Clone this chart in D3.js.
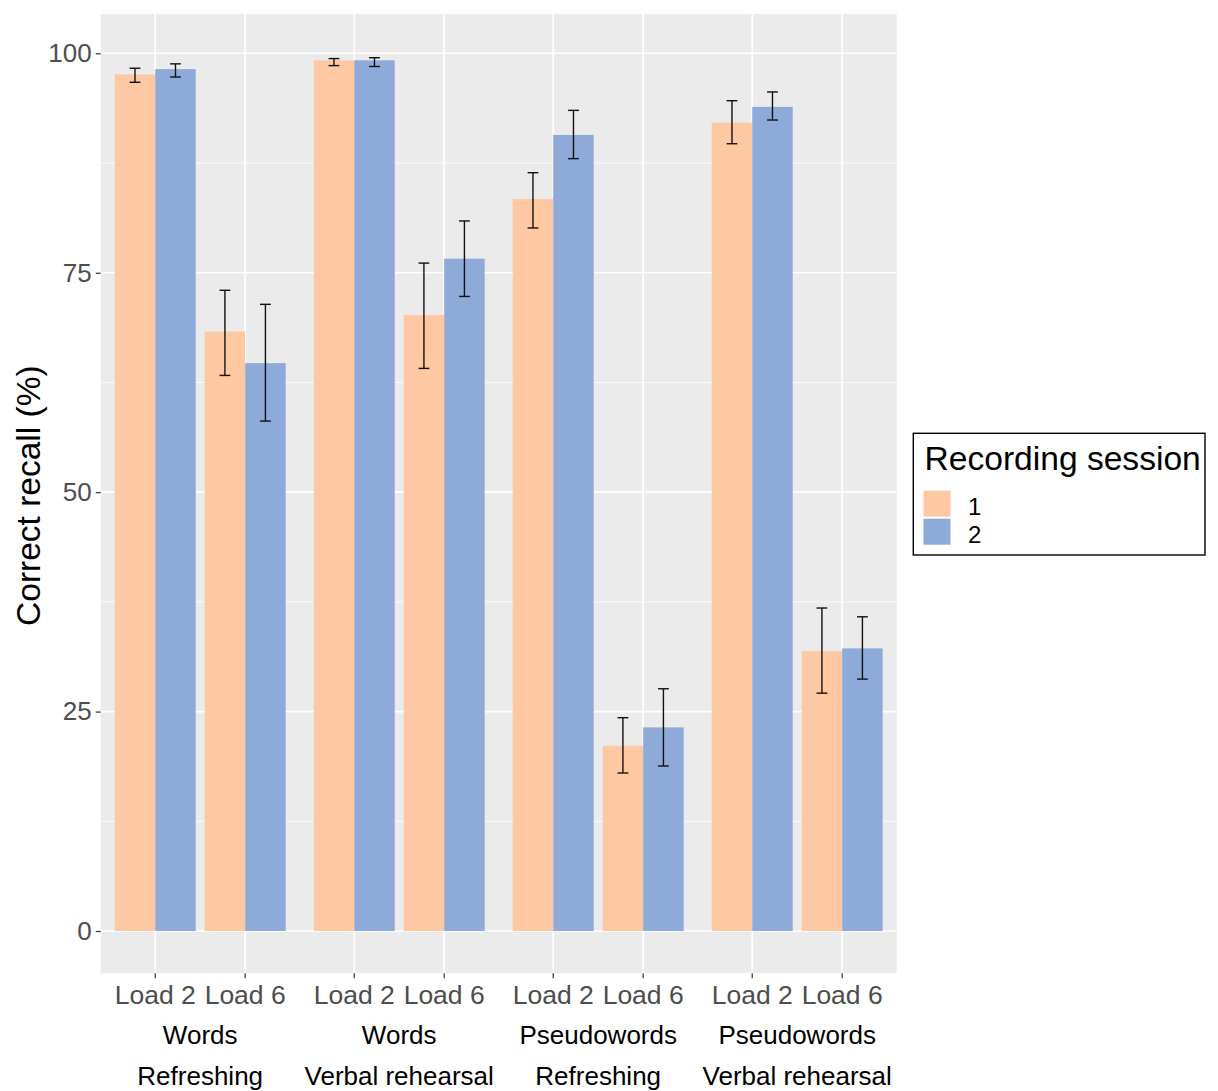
<!DOCTYPE html>
<html>
<head>
<meta charset="UTF-8">
<style>
  body { margin: 0; background: #fff; }
  svg { display: block; font-family: "Liberation Sans", Arial, sans-serif; }
</style>
</head>
<body>
<svg width="1218" height="1091"></svg>
<script src="https://cdn.jsdelivr.net/npm/d3@7"></script>
<script>

// condition labels (two lines under each pair of loads)
var groupTop = ["Words", "Words", "Pseudowords", "Pseudowords"];
var groupBottom = ["Refreshing", "Verbal rehearsal", "Refreshing", "Verbal rehearsal"];
var loads = ["Load 2", "Load 6"];
var sessions = ["1", "2"];
var yTicks = [0, 25, 50, 75, 100];

// values in order: group 1 load 2, group 1 load 6, group 2 load 2, ...
var session1Mean = [97.6, 68.3, 99.2, 70.2, 83.4, 21.1, 92.1, 31.9];
var session1Low  = [96.7, 63.3, 98.6, 64.1, 80.1, 18.0, 89.7, 27.1];
var session1High = [98.3, 73.0, 99.4, 76.1, 86.4, 24.3, 94.6, 36.8];
var session2Mean = [98.2, 64.7, 99.2, 76.6, 90.7, 23.2, 93.9, 32.2];
var session2Low  = [97.3, 58.1, 98.5, 72.3, 88.0, 18.8, 92.4, 28.7];
var session2High = [98.8, 71.4, 99.5, 80.9, 93.5, 27.6, 95.6, 35.8];

var colors = ["#FEC9A2", "#8EAAD8"];

var svg = d3.select("svg");
var panel = {left: 100.7, right: 896.7, top: 14, bottom: 973.3};

var y = d3.scaleLinear()
  .domain([-4.82, 104.48])
  .range([panel.bottom, panel.top]);

var xGroup = d3.scaleBand()
  .domain(d3.range(groupTop.length))
  .range([panel.left, panel.right])
  .paddingInner(0.096)
  .paddingOuter(0.048);

var xLoad = d3.scaleBand()
  .domain(loads)
  .range([0, xGroup.bandwidth()]);

var xSession = d3.scaleBand()
  .domain(sessions)
  .range([-40.5, 40.5]);

var color = d3.scaleOrdinal().domain(sessions).range(colors);

function tickX(i) {
  var g = Math.floor(i / loads.length), l = loads[i % loads.length];
  return xGroup(g) + xLoad(l) + xLoad.bandwidth() / 2;
}

var rows = [];
session1Mean.forEach(function(v, i) {
  rows.push({i: i, s: "1", mean: v, lo: session1Low[i], hi: session1High[i]});
  rows.push({i: i, s: "2", mean: session2Mean[i], lo: session2Low[i], hi: session2High[i]});
});

// panel
svg.append("rect")
  .attr("x", panel.left).attr("y", panel.top)
  .attr("width", panel.right - panel.left)
  .attr("height", panel.bottom - panel.top)
  .attr("fill", "#EBEBEB");

// minor grid
var minor = d3.range(12.5, 100, 25);
svg.append("g").selectAll("line").data(minor).join("line")
  .attr("x1", panel.left).attr("x2", panel.right)
  .attr("y1", function(d) { return y(d); }).attr("y2", function(d) { return y(d); })
  .attr("stroke", "#fff").attr("stroke-width", 0.8);

// major grid
svg.append("g").selectAll("line").data(yTicks).join("line")
  .attr("x1", panel.left).attr("x2", panel.right)
  .attr("y1", function(d) { return y(d); }).attr("y2", function(d) { return y(d); })
  .attr("stroke", "#fff").attr("stroke-width", 1.6);

svg.append("g").selectAll("line").data(d3.range(session1Mean.length)).join("line")
  .attr("x1", tickX).attr("x2", tickX)
  .attr("y1", panel.top).attr("y2", panel.bottom)
  .attr("stroke", "#fff").attr("stroke-width", 1.6);

// bars
svg.append("g").selectAll("rect").data(rows).join("rect")
  .attr("x", function(d) { return tickX(d.i) + xSession(d.s); })
  .attr("width", xSession.bandwidth())
  .attr("y", function(d) { return y(d.mean); })
  .attr("height", function(d) { return y(0) - y(d.mean); })
  .attr("fill", function(d) { return color(d.s); });

// error bars
var eb = svg.append("g").attr("stroke", "#111").attr("stroke-width", 1.4);
var cap = 5.4;
rows.forEach(function(d) {
  var cx = tickX(d.i) + xSession(d.s) + xSession.bandwidth() / 2;
  eb.append("line").attr("x1", cx).attr("x2", cx).attr("y1", y(d.lo)).attr("y2", y(d.hi));
  eb.append("line").attr("x1", cx - cap).attr("x2", cx + cap).attr("y1", y(d.lo)).attr("y2", y(d.lo));
  eb.append("line").attr("x1", cx - cap).attr("x2", cx + cap).attr("y1", y(d.hi)).attr("y2", y(d.hi));
});

// y axis
var yAxis = svg.append("g")
  .attr("transform", "translate(" + panel.left + ",0)")
  .call(d3.axisLeft(y).tickValues(yTicks).tickSize(5).tickPadding(4));
yAxis.select(".domain").remove();
yAxis.selectAll("line").attr("stroke", "#333").attr("stroke-width", 1.2);
yAxis.selectAll("text")
  .attr("fill", "#4D4D4D").attr("font-size", 26)
  .attr("font-family", "Liberation Sans, Arial, sans-serif");

// x axis ticks and labels
var xAxis = svg.append("g");
xAxis.selectAll("line").data(d3.range(session1Mean.length)).join("line")
  .attr("x1", tickX).attr("x2", tickX)
  .attr("y1", panel.bottom).attr("y2", panel.bottom + 5)
  .attr("stroke", "#333").attr("stroke-width", 1.2);
xAxis.selectAll("text").data(d3.range(session1Mean.length)).join("text")
  .attr("x", tickX).attr("y", 1003.5)
  .attr("text-anchor", "middle")
  .attr("fill", "#4D4D4D").attr("font-size", 26.5)
  .text(function(i) { return loads[i % loads.length]; });

var groupLabels = svg.append("g").attr("font-size", 26).attr("fill", "#000").attr("text-anchor", "middle");
groupLabels.selectAll(".top").data(groupTop).join("text")
  .attr("class", "top")
  .attr("x", function(d, g) { return xGroup(g) + xGroup.bandwidth() / 2; })
  .attr("y", 1044)
  .text(function(d) { return d; });
groupLabels.selectAll(".bottom").data(groupBottom).join("text")
  .attr("class", "bottom")
  .attr("x", function(d, g) { return xGroup(g) + xGroup.bandwidth() / 2; })
  .attr("y", 1085)
  .text(function(d) { return d; });

// y axis title
svg.append("text")
  .attr("transform", "translate(39.5," + ((panel.top + panel.bottom) / 2 + 2) + ") rotate(-90)")
  .attr("text-anchor", "middle")
  .attr("font-size", 33.5)
  .attr("fill", "#000")
  .text("Correct recall (%)");

// legend
var legend = svg.append("g");
legend.append("rect")
  .attr("x", 913.3).attr("y", 433.3)
  .attr("width", 291.7).attr("height", 121.7)
  .attr("fill", "#fff").attr("stroke", "#000").attr("stroke-width", 1.4);
legend.append("text")
  .attr("x", 924.5).attr("y", 470)
  .attr("font-size", 33.6).attr("fill", "#000")
  .text("Recording session");
legend.selectAll(".key").data(sessions).join("rect")
  .attr("class", "key")
  .attr("x", 923.5).attr("y", function(d, i) { return 490.7 + i * 28; })
  .attr("width", 27).attr("height", 26)
  .attr("fill", function(d) { return color(d); });
legend.selectAll(".lab").data(sessions).join("text")
  .attr("class", "lab")
  .attr("x", 968).attr("y", function(d, i) { return 514.5 + i * 28; })
  .attr("font-size", 24).attr("fill", "#000")
  .text(function(d) { return d; });

</script>
</body>
</html>
